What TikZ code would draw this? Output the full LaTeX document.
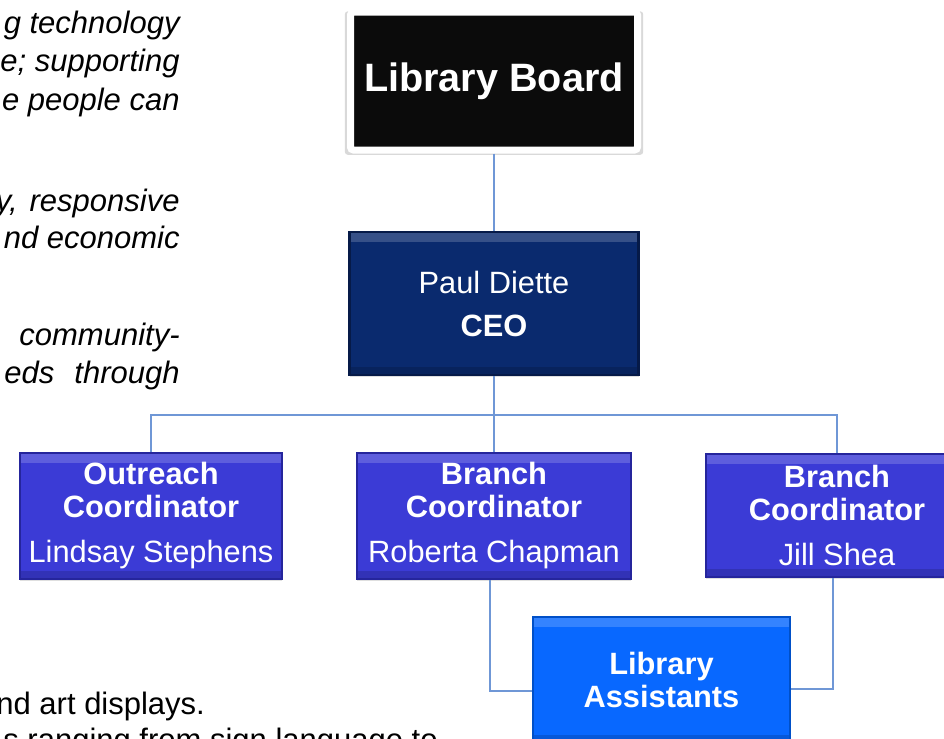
\documentclass[tikz,border=0pt]{standalone}
\usepackage{fontspec}
\setmainfont{Liberation Sans}
\usetikzlibrary{shadows}

\definecolor{boardblack}{HTML}{0B0B0B}
\definecolor{ceonavy}{HTML}{0A2A6E}
\definecolor{ceoedge}{HTML}{061A48}
\definecolor{coordblue}{HTML}{3B3BD6}
\definecolor{coordedge}{HTML}{25259C}
\definecolor{assistblue}{HTML}{0868FF}
\definecolor{assistedge}{HTML}{0050C8}
\definecolor{linkblue}{HTML}{6F97D6}

\tikzset{
  orgbox/.style 2 args={fill=#1, draw=#2, line width=1.2pt, text=white,
    align=center, inner sep=0pt, font=\fontsize{15.4pt}{16.5pt}\selectfont,
    drop shadow={shadow xshift=0pt, shadow yshift=-1pt, opacity=.25},
    path picture={
      \fill[white, opacity=.18] (path picture bounding box.north west)
        rectangle ([yshift=-5pt]path picture bounding box.north east);
      \fill[black, opacity=.15] (path picture bounding box.south west)
        rectangle ([yshift=4pt]path picture bounding box.south east);}},
  boardbox/.style={fill=boardblack, draw=white, line width=3.5pt, text=white,
    rounded corners=1.5pt, font=\fontsize{19.8pt}{22pt}\selectfont\bfseries,
    minimum width=143.5pt, minimum height=69pt,
    drop shadow={shadow xshift=0pt, shadow yshift=-1pt, opacity=.3,
      shadow scale=1.04}},
  link/.style={draw=linkblue, line width=.8pt},
  bodytext/.style={font=\fontsize{15.5pt}{18pt}\selectfont\itshape,
    inner sep=0pt, anchor=base east},
  plaintext/.style={font=\fontsize{15.5pt}{18pt}\selectfont,
    inner sep=0pt, anchor=base west}
}

\begin{document}
\begin{tikzpicture}[x=0.5pt, y=-0.5pt]
\useasboundingbox (0,0) rectangle (944,739);
\clip (0,0) rectangle (944,739);

% page text cut by the crop
\foreach \y/\txt [count=\i] in {33/{g technology}, 71/{e; supporting},
    110/{e people can}, 211/{y,\hspace{6pt}responsive}, 248/{nd economic},
    345/{community-}, 383/{eds\hspace{10pt}through}}
  \node[bodytext] (para\i) at (180,\y) {\txt};
\node[plaintext] (close1) at (-4,714) {nd art displays.};
\node[plaintext] (close2) at (3,750) {s ranging from sign language to};

% chart
\node[boardbox] (board) at (494,81) {Library Board};
\node[orgbox={ceonavy}{ceoedge}, minimum width=144.5pt, minimum height=71.5pt]
  (ceo) at (494,303.5) {Paul Diette\\[5pt]\textbf{CEO}};
\node[orgbox={coordblue}{coordedge}, minimum width=131pt, minimum height=63pt]
  (outreach) at (151,516) {\textbf{Outreach}\\\textbf{Coordinator}\\[6pt]Lindsay Stephens};
\node[orgbox={coordblue}{coordedge}, minimum width=137pt, minimum height=63pt]
  (brancha) at (494,516) {\textbf{Branch}\\\textbf{Coordinator}\\[6pt]Roberta Chapman};
\node[orgbox={coordblue}{coordedge}, minimum width=131pt, minimum height=61.5pt]
  (branchb) at (837,515.5) {\textbf{Branch}\\\textbf{Coordinator}\\[6pt]Jill Shea};
\node[orgbox={assistblue}{assistedge}, minimum width=128.5pt, minimum height=63pt]
  (assist) at (661.5,680) {\textbf{Library}\\\textbf{Assistants}};

\coordinate (bus) at (494,415);
\draw[link] (board.south) -- (ceo.north);
\draw[link] (ceo.south) -- (brancha.north);
\draw[link] (outreach.north) |- (bus) -| (branchb.north);
\draw[link] ([xshift=-2pt]brancha.south) |- ([yshift=-5.5pt]assist.west);
\draw[link] ([xshift=-2pt]branchb.south) |- ([yshift=-4.5pt]assist.east);
\end{tikzpicture}
\end{document}
